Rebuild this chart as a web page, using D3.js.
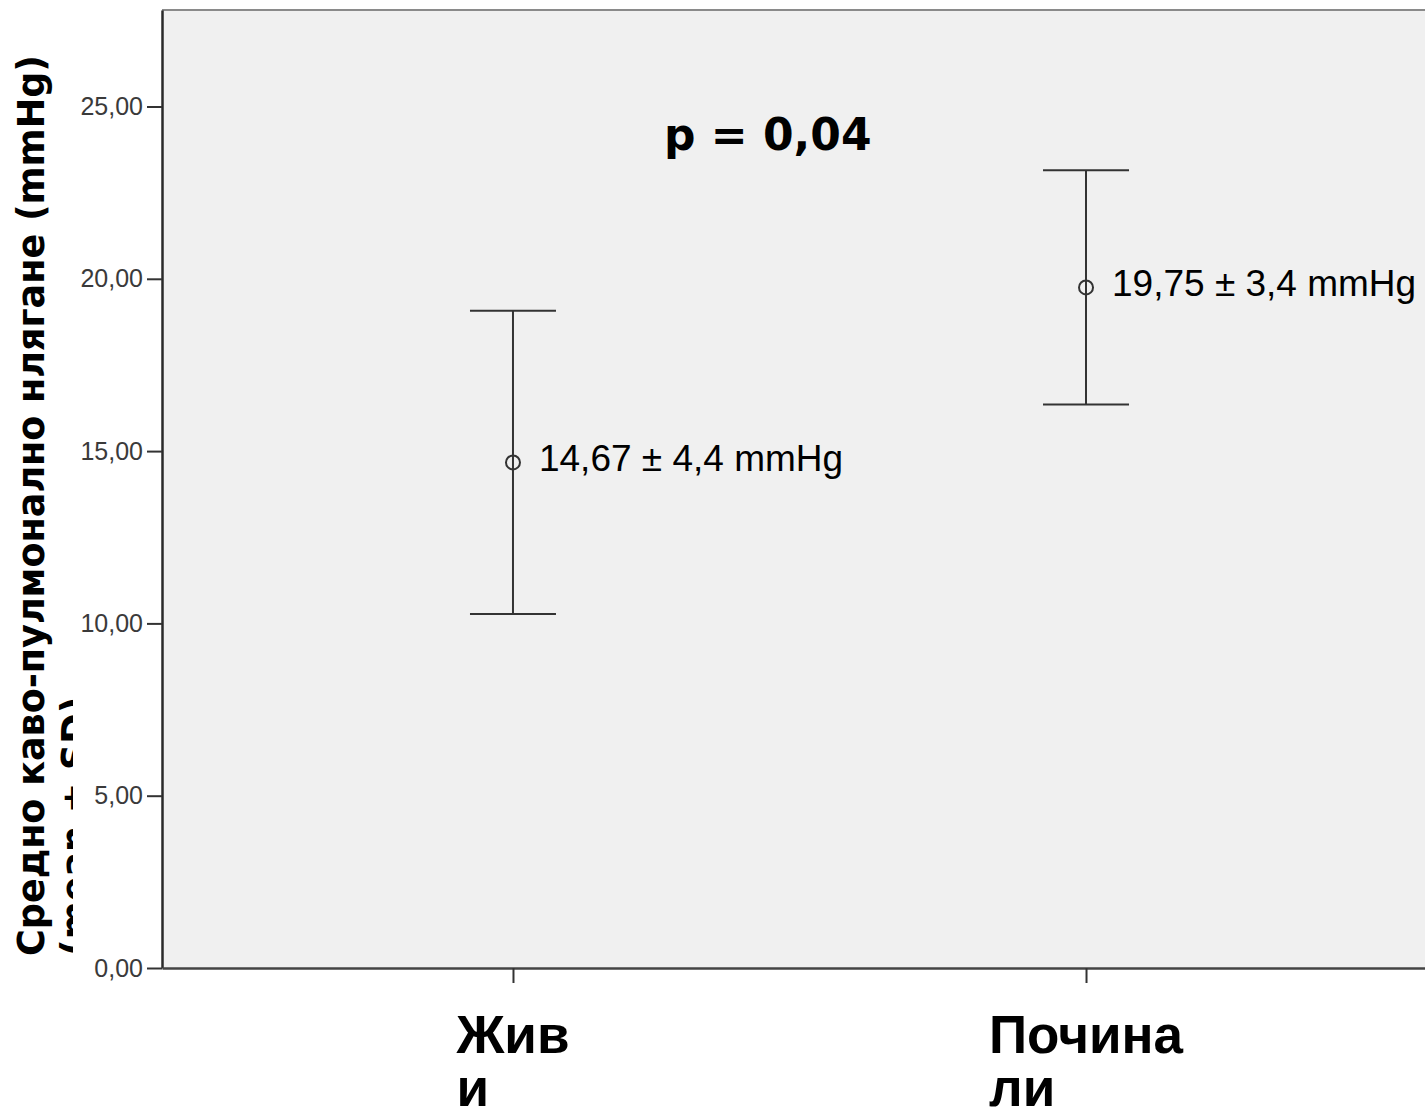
<!DOCTYPE html>
<html>
<head>
<meta charset="utf-8">
<script src="https://cdn.jsdelivr.net/npm/d3@7"></script>
<style>
  html, body { margin: 0; padding: 0; background: #ffffff; }
  svg { display: block; }
</style>
</head>
<body>
<svg id="chart" width="1425" height="1110"></svg>
<script>
// Outcome groups and their mean cavo-pulmonary pressure (mmHg) with SD
const categories = ["Живи", "Починали"];
const categoryLines = [["Жив", "и"], ["Почина", "ли"]];
const means = [14.67, 19.75];
const sds = [4.4, 3.4];
const yTicks = [0, 5, 10, 15, 20, 25];
const pValueLabel = "p = 0,04";
const yTitleLines = ["Средно каво-пулмонално нлягане (mmHg)", "(mean ± SD)"];

const W = 1425, H = 1110;
const plot = { left: 162, right: 1437, top: 10, bottom: 968 };

const svg = d3.select("#chart");

const locale = d3.formatLocale({ decimal: ",", thousands: ".", grouping: [3], currency: ["", ""] });
const fmt2 = locale.format(".2f");
const fmt1 = locale.format(".1f");

const y = d3.scaleLinear().domain([0, 27.8]).range([plot.bottom, plot.top]);
const x = d3.scalePoint().domain(categories).range([plot.left, plot.right]).padding(0.6125);

// plot background
svg.append("rect")
  .attr("x", plot.left).attr("y", plot.top)
  .attr("width", plot.right - plot.left).attr("height", plot.bottom - plot.top)
  .attr("fill", "#f0f0f0");

// top frame line
svg.append("line")
  .attr("x1", plot.left).attr("x2", plot.right)
  .attr("y1", plot.top).attr("y2", plot.top)
  .attr("stroke", "#8a8a8a").attr("stroke-width", 2);

// y axis
const yAxis = svg.append("g")
  .attr("transform", `translate(${plot.left},0)`)
  .call(d3.axisLeft(y).tickValues(yTicks).tickFormat(fmt2).tickSize(15).tickSizeOuter(0).tickPadding(4));
yAxis.select(".domain").attr("stroke", "#2a2a2a").attr("stroke-width", 2.5);
yAxis.selectAll(".tick line").attr("stroke", "#333").attr("stroke-width", 2);
yAxis.selectAll(".tick text")
  .attr("font-family", "'Liberation Sans', Arial, sans-serif")
  .attr("font-size", 25).attr("fill", "#3a3a3a");

// x axis
const xAxis = svg.append("g")
  .attr("transform", `translate(0,${plot.bottom})`)
  .call(d3.axisBottom(x).tickSize(15).tickSizeOuter(0).tickFormat(""));
xAxis.select(".domain").attr("stroke", "#444").attr("stroke-width", 2.5);
xAxis.selectAll(".tick line").attr("stroke", "#333").attr("stroke-width", 2);

// wrapped category labels
categories.forEach((c, i) => {
  const g = svg.append("g");
  const lines = categoryLines[i];
  const t0 = g.append("text")
    .attr("font-family", "'Liberation Sans', Arial, sans-serif")
    .attr("font-weight", "bold").attr("font-size", 53).attr("fill", "#000")
    .text(lines[0]);
  const w = t0.node().getComputedTextLength();
  const left = x(c) - w / 2;
  t0.attr("x", left).attr("y", 1053);
  lines.slice(1).forEach((ln, k) => {
    g.append("text")
      .attr("x", left).attr("y", 1053 + 53 * (k + 1))
      .attr("font-family", "'Liberation Sans', Arial, sans-serif")
      .attr("font-weight", "bold").attr("font-size", 53).attr("fill", "#000")
      .text(ln);
  });
});

// error bars: mean ± SD
const rows = categories.map((c, i) => ({ c, mean: means[i], sd: sds[i] }));
const capHalf = 43;
const bars = svg.append("g").selectAll("g").data(rows).join("g");
bars.append("line")
  .attr("x1", d => x(d.c)).attr("x2", d => x(d.c))
  .attr("y1", d => y(d.mean + d.sd)).attr("y2", d => y(d.mean - d.sd))
  .attr("stroke", "#333").attr("stroke-width", 2);
bars.append("line")
  .attr("x1", d => x(d.c) - capHalf).attr("x2", d => x(d.c) + capHalf)
  .attr("y1", d => y(d.mean + d.sd)).attr("y2", d => y(d.mean + d.sd))
  .attr("stroke", "#333").attr("stroke-width", 2);
bars.append("line")
  .attr("x1", d => x(d.c) - capHalf).attr("x2", d => x(d.c) + capHalf)
  .attr("y1", d => y(d.mean - d.sd)).attr("y2", d => y(d.mean - d.sd))
  .attr("stroke", "#333").attr("stroke-width", 2);
bars.append("circle")
  .attr("cx", d => x(d.c)).attr("cy", d => y(d.mean)).attr("r", 7)
  .attr("fill", "none").attr("stroke", "#333").attr("stroke-width", 2);
bars.append("text")
  .attr("x", d => x(d.c) + 26).attr("y", d => y(d.mean) + 9)
  .attr("font-family", "'Liberation Sans', Arial, sans-serif")
  .attr("font-size", 37).attr("fill", "#000")
  .text(d => `${fmt2(d.mean)} ± ${fmt1(d.sd)} mmHg`);

// significance annotation
svg.append("text")
  .attr("x", 664).attr("y", 150)
  .attr("font-family", "'DejaVu Sans', sans-serif")
  .attr("font-weight", "bold").attr("font-size", 44).attr("fill", "#000")
  .text(pValueLabel);

// y axis title (second line partly hidden behind the tick label column)
svg.append("defs").append("clipPath").attr("id", "titleClip")
  .append("rect").attr("x", 0).attr("y", 0).attr("width", 73).attr("height", H);
const yTitle = svg.append("g").attr("clip-path", "url(#titleClip)");
yTitleLines.forEach((ln, i) => {
  yTitle.append("text")
    .attr("transform", `translate(${44 + 44 * i},956) rotate(-90)`)
    .attr("font-family", "'DejaVu Sans', sans-serif")
    .attr("font-weight", "bold").attr("font-size", 36.5).attr("fill", "#000")
    .text(ln);
});
</script>
</body>
</html>
